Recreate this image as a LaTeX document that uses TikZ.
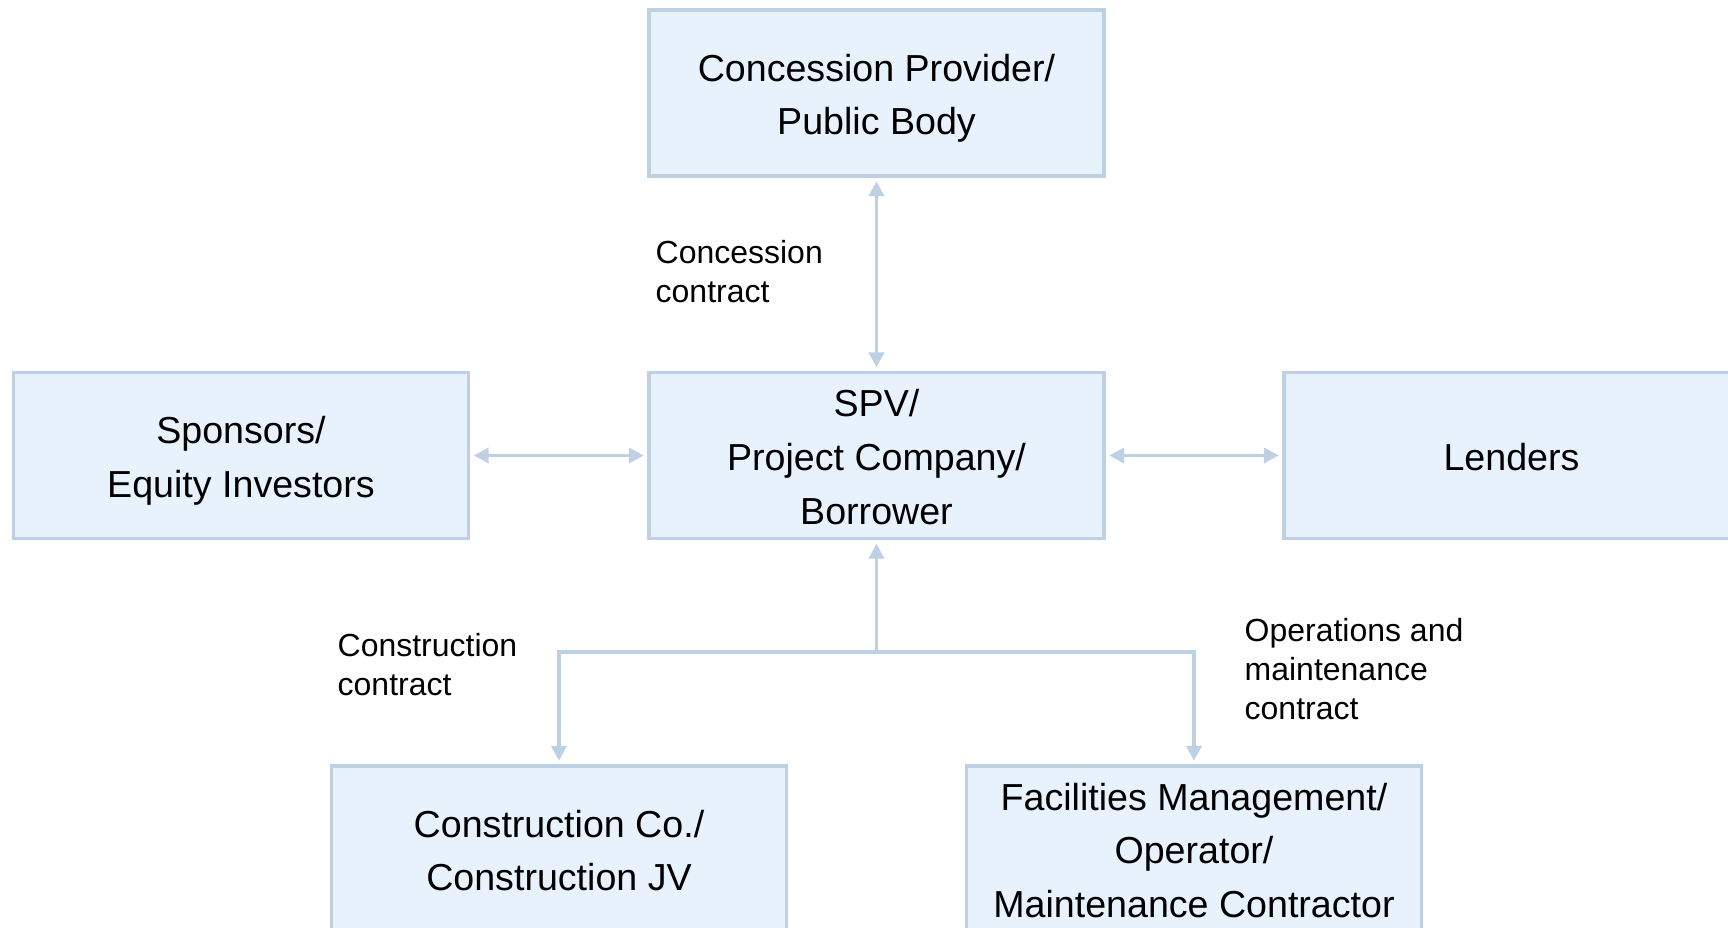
\documentclass[tikz,border=0pt]{standalone}
\usepackage{fontspec}
\setmainfont{Liberation Sans}
\usetikzlibrary{arrows.meta}
\definecolor{boxfill}{RGB}{232,242,252}
\definecolor{boxline}{RGB}{190,208,228}
\definecolor{notetext}{RGB}{0,0,0}
% struts for the first and last line of a box
\newcommand{\toprow}{\rule{0pt}{0.40cm}}
\newcommand{\lowrow}{\rule[-0.10cm]{0pt}{0.10cm}}

\tikzset{
  box/.style={draw=boxline, fill=boxfill, line width=0.95pt, minimum width=4.55cm,
    minimum height=1.66cm, inner sep=0pt, align=center,
    font=\fontsize{10.7}{15.3}\selectfont},
  link/.style={boxline, line width=1pt,
    {Triangle[length=0.15cm, width=0.15cm]}-{Triangle[length=0.15cm, width=0.15cm]},
    shorten <=0.035cm, shorten >=0.035cm},
  onelink/.style={boxline, line width=1pt, -{Triangle[length=0.15cm, width=0.15cm]},
    shorten >=0.035cm},
  note/.style={anchor=north west, align=left, inner sep=0pt, text=notetext,
    font=\fontsize{9.1}{11}\selectfont}
}

\begin{document}
\begin{tikzpicture}

% 1. CANVAS
\useasboundingbox (0,0) rectangle (17.28,-9.28);
\clip (0,0) rectangle (17.28,-9.28);

% 2. PARTIES
\node[box] (provider) at (8.765,-0.93) {\toprow Concession Provider/\\Public Body\lowrow};
\node[box] (sponsors) at (2.41,-4.555) {\toprow Sponsors/\\Equity Investors\lowrow};
\node[box] (spv) at (8.765,-4.555) {\toprow SPV/\\Project Company/\\Borrower\lowrow};
\node[box] (lenders) at (15.115,-4.555) {\toprow Lenders\lowrow};
\node[box] (builder) at (5.59,-8.49) {\toprow Construction Co./\\Construction JV\lowrow};
\node[box] (operator) at (11.94,-8.49) {\toprow Facilities Management/\\Operator/\\Maintenance Contractor\lowrow};

% 3. CONTRACT LINKS
\draw[link] (provider) -- (spv);
\draw[link] (sponsors) -- (spv);
\draw[link] (spv) -- (lenders);

% Tree down to the contractors
\coordinate (split) at (8.765,-6.52);
\draw[onelink] (split) -- (spv.south);
\draw[onelink] (split) -| (builder.north);
\draw[onelink] (split) -| (operator.north);

% 4. CONTRACT LABELS
\node[note] (concnote) at (6.55,-2.40) {Concession\\contract};
\node[note] (buildnote) at (3.37,-6.33) {Construction\\contract};
\node[note] (opnote) at (12.44,-6.18) {Operations and\\maintenance\\contract};

\end{tikzpicture}
\end{document}
